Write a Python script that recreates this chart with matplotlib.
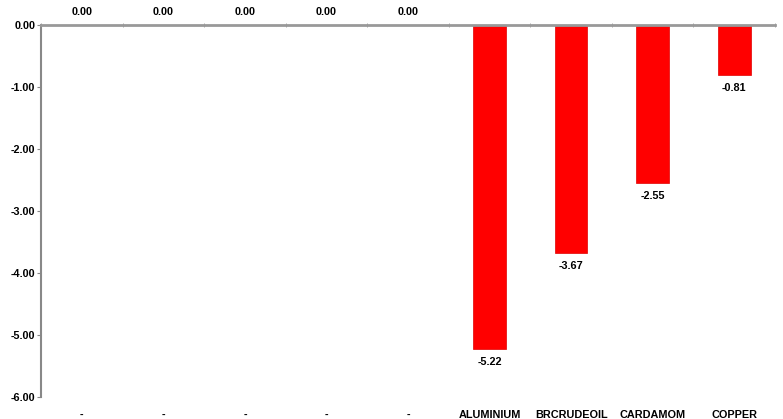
import matplotlib.pyplot as plt
import numpy as np

plt.rcParams["font.family"] = ["Liberation Sans", "DejaVu Sans"]
plt.rcParams["font.weight"] = "bold"

categories = ["-", "-", "-", "-", "-", "ALUMINIUM", "BRCRUDEOIL", "CARDAMOM", "COPPER"]
values = [0.00, 0.00, 0.00, 0.00, 0.00, -5.22, -3.67, -2.55, -0.81]
yticks = [0, -1, -2, -3, -4, -5, -6]

fig = plt.figure(figsize=(7.83, 4.19), dpi=100)
ax = fig.add_axes([41 / 783, 1 - 397 / 419, 734 / 783, 372 / 419])

x = np.arange(len(categories))
ax.bar(x, values, width=0.4, color="#ff0000", edgecolor="#e00000", linewidth=0.5)

for xi, v in zip(x, values):
    off = 9.5 if v >= 0 else -9.5
    ax.annotate(f"{v:.2f}", (xi, v), xytext=(0, off), textcoords="offset points",
                ha="center", va="center", fontsize=7.8, fontweight="bold", annotation_clip=False)

ax.set_xlim(-0.5, len(categories) - 0.5)
ax.set_ylim(-6, 0)
ax.set_yticks(yticks)
ax.set_yticklabels([f"{t:.2f}" for t in yticks], fontsize=7.8, fontweight="bold")

ax.set_xticks(x)
ax.set_xticklabels(categories, fontsize=7.8, fontweight="bold")
ax.set_xticks(np.arange(len(categories) + 1) - 0.5, minor=True)
ax.tick_params(axis="x", which="major", length=0, pad=9)
ax.tick_params(axis="x", which="minor", top=True, bottom=False, length=3, color="#999999", direction="inout")
ax.tick_params(axis="y", length=3, color="#888888", pad=1)

for s in ["right", "bottom"]:
    ax.spines[s].set_visible(False)
ax.spines["top"].set_color("#999999")
ax.spines["top"].set_linewidth(2)
ax.spines["left"].set_color("#888888")
ax.spines["left"].set_linewidth(1.5)

fig.savefig("out.png", dpi=100)
